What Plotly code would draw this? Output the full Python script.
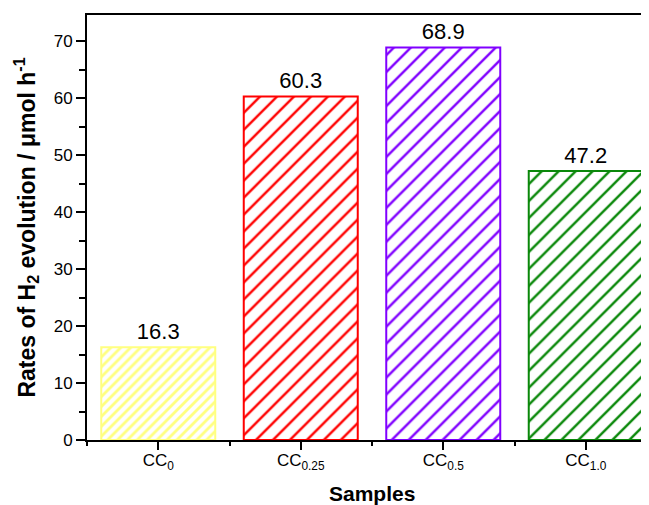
import plotly.graph_objects as go

categories = ["CC<sub>0</sub>", "CC<sub>0.25</sub>", "CC<sub>0.5</sub>", "CC<sub>1.0</sub>"]
rates = [16.3, 60.3, 68.9, 47.2]
labels = ["16.3", "60.3", "68.9", "47.2"]
colors = ["#ffff80", "#ff0000", "#8000ff", "#0a880a"]
pattern_sizes = [7, 12, 12, 12]
pattern_solidity = [0.4, 0.2, 0.2, 0.2]

x_pos = list(range(len(categories)))
FONT = "Liberation Sans, Arial, sans-serif"

fig = go.Figure()
for i in range(len(categories)):
    fig.add_trace(go.Bar(
        x=[x_pos[i]], y=[rates[i]], width=0.8,
        text=[labels[i]], textposition="outside",
        textfont=dict(size=22, color="black", family=FONT),
        cliponaxis=False,
        marker=dict(
            color="white",
            line=dict(color=colors[i], width=2),
            pattern=dict(shape="/", fgcolor=colors[i], bgcolor="white",
                         size=pattern_sizes[i], solidity=pattern_solidity[i],
                         fgopacity=1, fillmode="overlay"),
        ),
        showlegend=False,
    ))

fig.update_layout(
    width=649, height=505,
    margin=dict(l=79, r=0, t=7, b=73),
    plot_bgcolor="white", paper_bgcolor="white",
    font=dict(family=FONT, color="black"),
    bargap=0.2,
    xaxis=dict(
        range=[-0.5, 3.5], automargin=False,
        tickmode="array", tickvals=x_pos, ticktext=categories,
        ticks="outside", ticklen=8, tickwidth=2, tickcolor="black",
        tickfont=dict(size=17, family=FONT), ticklabelstandoff=-4,
        minor=dict(tickmode="linear", tick0=0.5, dtick=1, ticks="outside",
                   ticklen=4, tickwidth=2, tickcolor="black"),
        showline=True, linecolor="black", linewidth=2, mirror=True,
        showgrid=False, zeroline=False,
    ),
    yaxis=dict(
        range=[0, 74.6], automargin=False,
        tickmode="linear", tick0=0, dtick=10,
        ticks="outside", ticklen=9, tickwidth=2, tickcolor="black",
        tickfont=dict(size=17, family=FONT),
        minor=dict(tickmode="linear", tick0=5, dtick=10, ticks="outside",
                   ticklen=6, tickwidth=2, tickcolor="black"),
        showline=True, linecolor="black", linewidth=2,
        showgrid=False, zeroline=False,
        title=dict(text="<b>Rates of H<sub>2</sub> evolution / μmol h<sup>-1</sup></b>",
                   font=dict(size=23, family=FONT), standoff=12),
    ),
    annotations=[dict(
        text="<b>Samples</b>", x=1.5, xref="x", y=0, yref="paper",
        yanchor="top", yshift=-40, showarrow=False,
        font=dict(size=21, family=FONT, color="black"),
    )],
)

fig.write_html("out.html")
